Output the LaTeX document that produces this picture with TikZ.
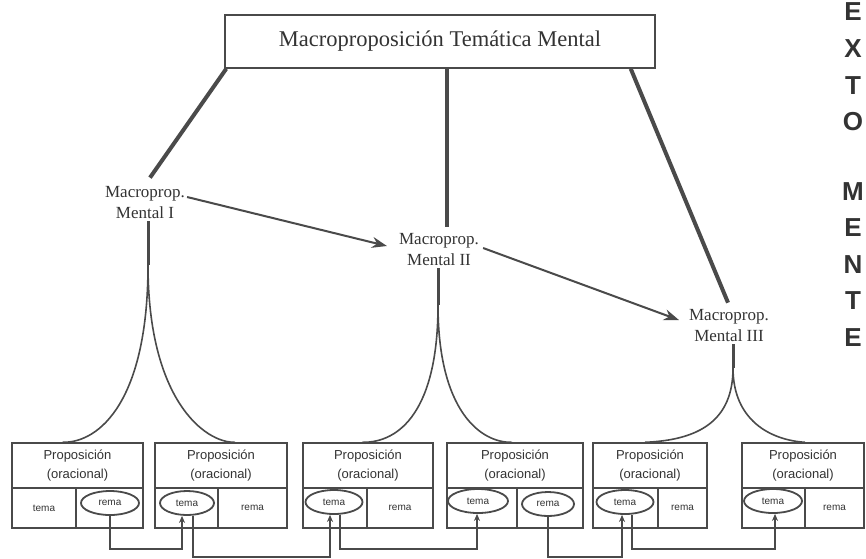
\documentclass[tikz,border=0pt]{standalone}
\usepackage{fontspec}
\setmainfont{Liberation Serif}
\newfontfamily\boxfont{Liberation Sans}
\usetikzlibrary{arrows.meta,calc,shapes.geometric}
\definecolor{ink}{HTML}{333333}
\definecolor{lineg}{HTML}{4a4a4a}
\begin{document}
\begin{tikzpicture}[x=1pt,y=-1pt,
  every node/.style={text=ink},
  heavy/.style={draw=lineg,line width=4pt},
  cusp/.style={draw=lineg,line width=1.6pt},
  stem/.style={draw=lineg,line width=3pt},
  bigarrow/.style={draw=lineg,line width=2pt,-{Stealth[length=15pt,width=11pt]}},
  mtext/.style={align=center,font=\fontsize{17}{21}\selectfont,inner sep=2pt},
  title/.style={draw=lineg,line width=1.4pt,align=center,minimum height=45pt,inner sep=0pt,font=\boxfont\fontsize{13}{19}\selectfont},
  cell/.style={draw=lineg,line width=1.4pt,minimum height=40pt,inner sep=0pt,font=\boxfont\fontsize{10}{12}\selectfont},
  ell/.style={draw=lineg,line width=1.8pt,ellipse,minimum height=24pt,inner sep=0pt,font=\boxfont\fontsize{10}{12}\selectfont},
  conn/.style={draw=lineg,line width=1.4pt},
  tip/.style={-{Stealth[length=7pt,width=6pt]}},
  letter/.style={anchor=center,inner sep=0pt,text=ink,font=\boxfont\bfseries\fontsize{26}{26}\selectfont}
]
\useasboundingbox (0,0) rectangle (866,558);
\fill[white] (0,0) rectangle (866,558);

% top node
\node[draw=lineg,line width=1.5pt,minimum width=430pt,minimum height=53pt,inner sep=0pt,
      font=\fontsize{22.5}{25}\selectfont] (T) at (440,41.5) {Macroproposición Temática Mental};

% macro nodes
\node[mtext] (m1) at (145,203) {Macroprop.\\Mental I};
\node[mtext] (m2) at (439,250) {Macroprop.\\Mental II};
\node[mtext] (m3) at (729,326) {Macroprop.\\Mental III};

% heavy lines from top
\draw[heavy] ([xshift=2pt]T.south west) -- ([xshift=5pt,yshift=7pt]m1.north);
\draw[heavy] ([xshift=7pt]T.south) -- ([xshift=8pt,yshift=5pt]m2.north);
\draw[heavy] ([xshift=-25pt]T.south east) -- ([xshift=-1pt,yshift=5pt]m3.north);

% arrows between macro nodes
\draw[bigarrow] ([yshift=6pt]m1.east) -- ([xshift=-10pt,yshift=4pt]m2.west);
\draw[bigarrow] ([xshift=2pt,yshift=2pt]m2.east) -- ([xshift=-8pt,yshift=6pt]m3.west);

% proposition boxes
\node[title,minimum width=131pt] (p1) at (77.5,465.5) {Proposición\\(oracional)};
\node[cell,minimum width=64pt] (p1a) at (44,508) {tema};
\node[cell,minimum width=67pt] (p1b) at (109.5,508) {};
\node[title,minimum width=132pt] (p2) at (221,465.5) {Proposición\\(oracional)};
\node[cell,minimum width=63pt] (p2a) at (186.5,508) {};
\node[cell,minimum width=69pt] (p2b) at (252.5,508) {rema};
\node[title,minimum width=130pt] (p3) at (368,465.5) {Proposición\\(oracional)};
\node[cell,minimum width=64pt] (p3a) at (335,508) {};
\node[cell,minimum width=66pt] (p3b) at (400,508) {rema};
\node[title,minimum width=136pt] (p4) at (515,465.5) {Proposición\\(oracional)};
\node[cell,minimum width=70pt] (p4a) at (482,508) {};
\node[cell,minimum width=66pt] (p4b) at (550,508) {};
\node[title,minimum width=114pt] (p5) at (650,465.5) {Proposición\\(oracional)};
\node[cell,minimum width=65pt] (p5a) at (625.5,508) {};
\node[cell,minimum width=49pt] (p5b) at (682.5,508) {rema};
\node[title,minimum width=122pt] (p6) at (803,465.5) {Proposición\\(oracional)};
\node[cell,minimum width=63pt] (p6a) at (773.5,508) {};
\node[cell,minimum width=59pt] (p6b) at (834.5,508) {rema};

% ellipses
\node[ell,minimum width=58pt] (e1) at (110,503) {rema};
\node[ell,minimum width=54pt] (e2) at (187,503) {tema};
\node[ell,minimum width=57pt] (e3) at (334,502) {tema};
\node[ell,minimum width=60pt] (e4) at (478,501) {tema};
\node[ell,minimum width=52pt] (e4r) at (548,504) {rema};
\node[ell,minimum width=57pt] (e5) at (625,502) {tema};
\node[ell,minimum width=58pt] (e6) at (773,501) {tema};

% cusps below macro nodes
\coordinate (j1) at (148,265);
\draw[stem] ([xshift=3pt]m1.south) -- (j1);
\draw[cusp] (j1) .. controls (148,400) and (100,443) .. ([xshift=-15pt]p1.north);
\draw[cusp] (j1) .. controls (148,400) and (205,443) .. ([xshift=14pt]p2.north);
\coordinate (j2) at (438,305);
\draw[stem] ([xshift=-1pt]m2.south) -- (j2);
\draw[cusp] (j2) .. controls (438,410) and (400,443) .. ([xshift=-6pt]p3.north);
\draw[cusp] (j2) .. controls (438,410) and (480,443) .. ([xshift=-3pt]p4.north);
\coordinate (j3) at (733,368);
\draw[stem] ([xshift=4pt]m3.south) -- (j3);
\draw[cusp] (j3) .. controls (733,420) and (700,440) .. ([xshift=-5pt]p5.north);
\draw[cusp] (j3) .. controls (733,420) and (770,440) .. ([xshift=2pt]p6.north);

% bottom connectors
\draw[conn,tip] (e1.south) -- ++(0,33) -| ([xshift=-5pt]e2.south);
\draw[conn,tip] ([xshift=6pt]e2.south) -- ++(0,41) -| ([xshift=-4pt]e3.south);
\draw[conn,tip] ([xshift=6pt]e3.south) -- ++(0,34) -| ([xshift=-1pt]e4.south);
\draw[conn,tip] (e4r.south) -- ++(0,40) -| ([xshift=-3pt]e5.south);
\draw[conn,tip] ([xshift=7pt]e5.south) -- ++(0,34) -| ([xshift=2pt]e6.south);

% vertical letters
\node[letter] (l1) at (853,12) {E};
\node[letter] (l2) at (853,49) {X};
\node[letter] (l3) at (853,86) {T};
\node[letter] (l4) at (853,122) {O};
\node[letter] (l5) at (853,192) {M};
\node[letter] (l6) at (853,228) {E};
\node[letter] (l7) at (853,265) {N};
\node[letter] (l8) at (853,301) {T};
\node[letter] (l9) at (853,338) {E};
\end{tikzpicture}
\end{document}
